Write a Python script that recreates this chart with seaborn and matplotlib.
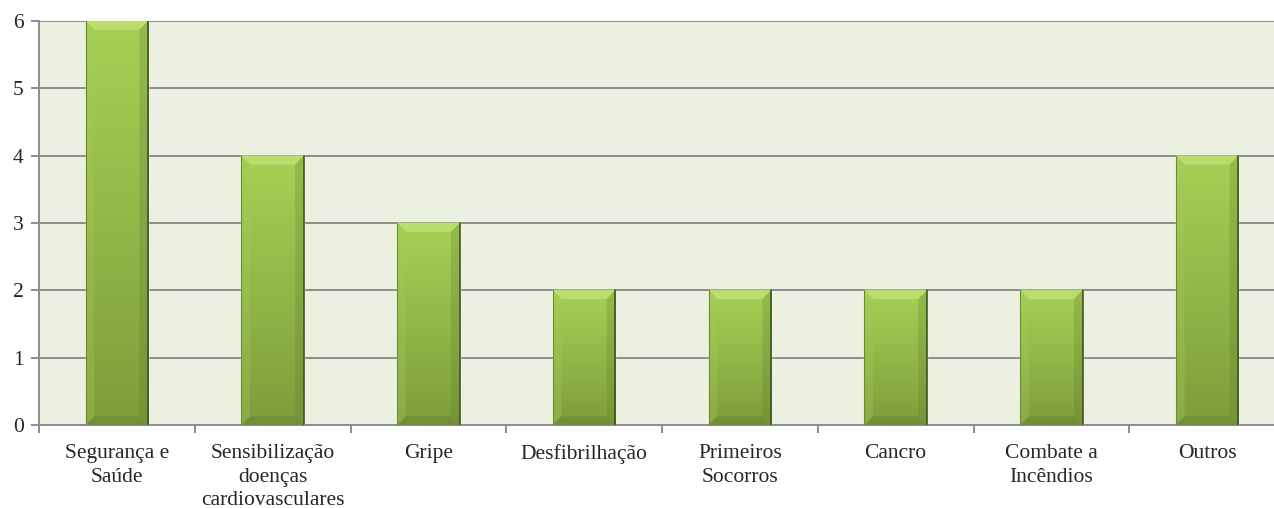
import numpy as np
import pandas as pd
import matplotlib
matplotlib.use('Agg')
import matplotlib.pyplot as plt
import seaborn as sns
from matplotlib.patches import Polygon
from matplotlib.ticker import FixedLocator

# dados do gráfico
categorias = ['Segurança e\nSaúde', 'Sensibilização\ndoenças\ncardiovasculares', 'Gripe',
              'Desfibrilhação', 'Primeiros\nSocorros', 'Cancro', 'Combate a\nIncêndios', 'Outros']
valores = [6, 4, 3, 2, 2, 2, 2, 4]
ticks_y = [0, 1, 2, 3, 4, 5, 6]

df = pd.DataFrame({'cat': categorias, 'val': valores})

sns.set_style('white')
plt.rcParams['font.family'] = ['Liberation Serif', 'DejaVu Serif']

fig = plt.figure(figsize=(12.74, 5.08), dpi=100)
ax = fig.add_axes([39 / 1274, 83 / 508, 1246 / 1274, 404 / 508])
ax.set_facecolor('#EBF0E0')

sns.barplot(data=df, x='cat', y='val', color='#9BBB59', width=0.4, ax=ax, zorder=3)

ax.set_ylim(0, 6)
ax.set_xlim(-0.5, len(categorias) - 0.5)
ax.set_yticks(ticks_y)
ax.yaxis.grid(True, color='#8C8C8C', lw=1.4, zorder=0)
ax.set_axisbelow(True)
ax.set_xlabel('')
ax.set_ylabel('')

for s in ['top', 'right']:
    ax.spines[s].set_visible(False)
for s in ['left', 'bottom']:
    ax.spines[s].set_color('#8C8C8C')
    ax.spines[s].set_linewidth(1.4)

ax.tick_params(axis='y', length=6, width=1.4, color='#8C8C8C', labelsize=15.5, pad=5, left=True)
ax.tick_params(axis='x', which='major', length=0, labelsize=15.5, pad=14)
ax.xaxis.set_minor_locator(FixedLocator(np.arange(-0.5, len(categorias) + 0.5, 1)))
ax.tick_params(axis='x', which='minor', length=6, width=1.4, color='#8C8C8C', bottom=True)
for lab in ax.get_xticklabels():
    lab.set_linespacing(1.3)

# gradiente e bisel de cada barra
topo = np.array([0.65, 0.82, 0.33])
base = np.array([0.49, 0.62, 0.23])
bx = 0.055
by = 0.13
for p in ax.patches:
    x0, w, h = p.get_x(), p.get_width(), p.get_height()
    t = np.linspace(0, 1, 200)[:, None, None]
    img = topo * (1 - t) + base * t
    im = ax.imshow(np.clip(img, 0, 1), extent=(x0, x0 + w, 0, h), aspect='auto',
                   zorder=4, interpolation='bilinear')
    im.set_clip_path(p)
    x1 = x0 + w
    lados = [
        ([[x0, h], [x1, h], [x1 - bx, h - by], [x0 + bx, h - by]], '#BCE070', 0.9),
        ([[x0, 0], [x0, h], [x0 + bx, h - by], [x0 + bx, by]], '#A6CB5C', 0.3),
        ([[x1, 0], [x1, h], [x1 - bx, h - by], [x1 - bx, by]], '#5E7A2C', 0.25),
        ([[x0, 0], [x1, 0], [x1 - bx, by], [x0 + bx, by]], '#55702A', 0.3),
    ]
    for pts, cor, a in lados:
        ax.add_patch(Polygon(pts, closed=True, facecolor=cor, edgecolor='none', alpha=a, zorder=5))
    ax.plot([x1, x1], [0, h], color='#3F5220', lw=1.2, zorder=6)
    ax.plot([x0, x0], [0, h], color='#6E8A36', lw=0.8, zorder=6)

ax.set_xlim(-0.5, len(categorias) - 0.5)
ax.set_ylim(0, 6)

plt.savefig('out.png', dpi=100)
